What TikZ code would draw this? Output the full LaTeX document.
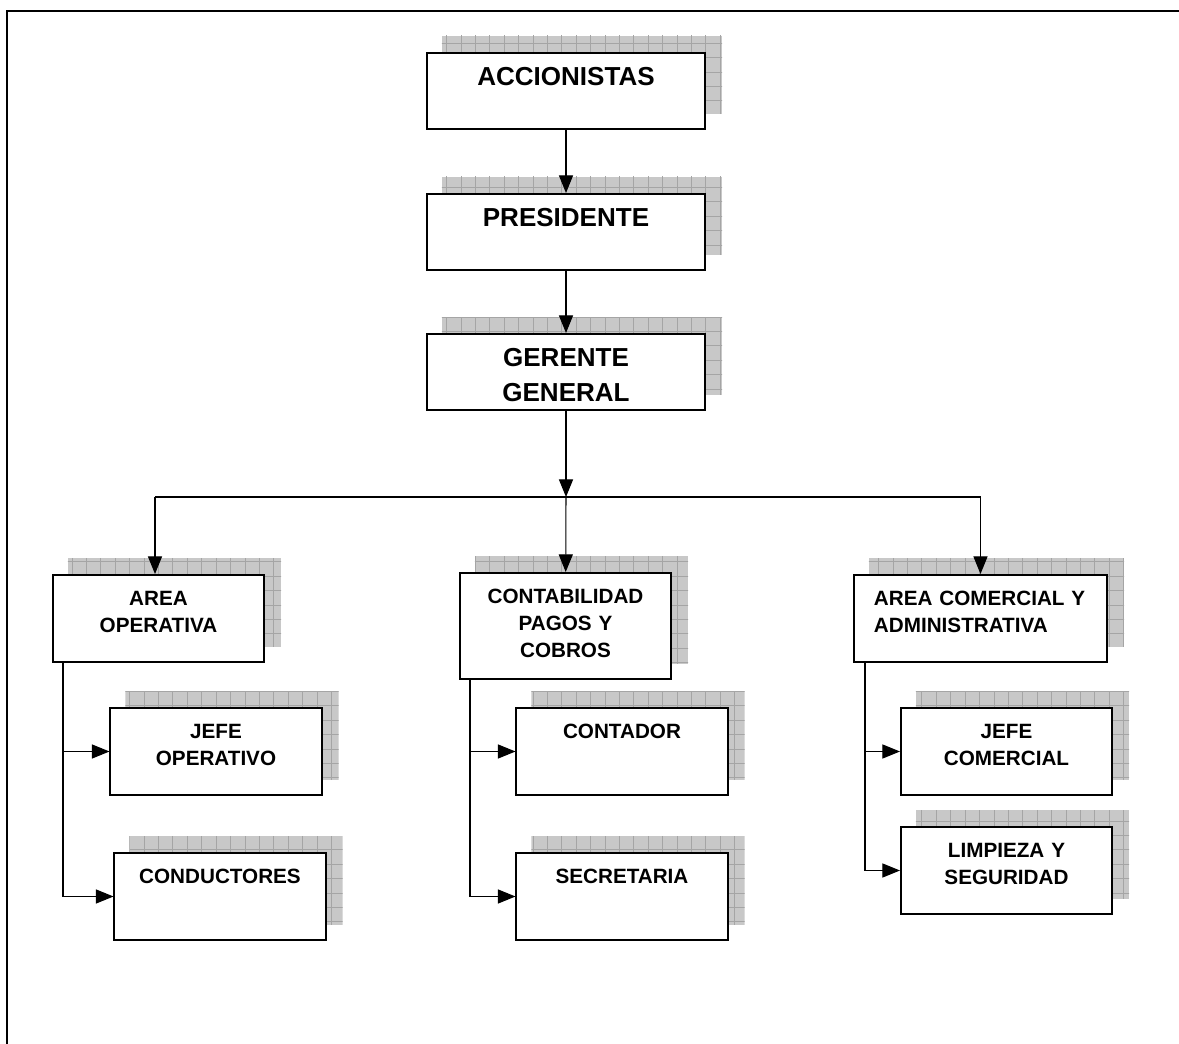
\documentclass[tikz,border=0pt]{standalone}
\usepackage{fontspec}
\setmainfont{Liberation Sans}
\usepackage{tikz}
\usetikzlibrary{arrows.meta,shapes}
\usetikzlibrary{positioning,calc,backgrounds}
\definecolor{shadefill}{RGB}{200,200,200}
\definecolor{shadegrid}{RGB}{165,165,165}
\tikzstyle{head} = [rectangle, draw, fill=white, line width=1.4pt, inner sep=0pt,
    text width=6.95cm, align=center, anchor=north,
    font=\fontsize{18.5}{24.2}\selectfont\bfseries,
    text height=0.825cm, text depth=1.075cm]
\tikzstyle{unit} = [rectangle, draw, fill=white, line width=1.4pt, inner sep=0pt,
    text width=5.275cm, align=center, anchor=north,
    font=\fontsize{14.7}{19.2}\selectfont\bfseries,
    text height=0.775cm, text depth=1.4cm]
\tikzstyle{link} = [draw, line width=0.75pt, -{Triangle[length=12.5pt,width=10pt]}]
\tikzstyle{bus} = [draw, line width=0.75pt]

\begin{document}
\begin{tikzpicture}[x=0.025cm, y=-0.025cm]
  \useasboundingbox (0,0) rectangle (1179,1044);
  \draw [line width=1.4pt] (7,1044) -- (7,11) -- (1179,11);
  % Place nodes
  \node [head] (accionistas) at (566,52) {ACCIONISTAS};
  \node [head] (presidente) at (566,193) {PRESIDENTE};
  \node [head] (gerente) at (566,333) {GERENTE\\GENERAL};
  \node [unit] (operativa) at (158.5,574) {AREA\\OPERATIVA};
  \node [unit, text depth=1.875cm] (contabilidad) at (565.5,572)
  {CONTABILIDAD\\PAGOS Y\\COBROS};
  \node [unit, text width=5.325cm, inner xsep=0.5cm, align=left]
  (comercial) at (980.5,574) {AREA COMERCIAL Y\\ADMINISTRATIVA};
  \node [unit] (jefeop) at (216,707) {JEFE\\OPERATIVO};
  \node [unit] (conductores) at (220,852) {CONDUCTORES};
  \node [unit] (contador) at (622,707) {CONTADOR};
  \node [unit] (secretaria) at (622,852) {SECRETARIA};
  \node [unit] (jefecom) at (1006.5,707) {JEFE\\COMERCIAL};
  \node [unit] (limpieza) at (1006.5,826) {LIMPIEZA Y\\SEGURIDAD};
  % Shadows
  \begin{scope}[on background layer]
    \foreach \n in {accionistas,presidente,gerente,operativa,contabilidad,
      comercial,jefeop,conductores,contador,secretaria,jefecom,limpieza} {
      \begin{scope}
        \clip ($(\n.south west)+(16,-16)$) rectangle ($(\n.north east)+(16,-16)$);
        \fill [shadefill] ($(\n.south west)+(16,-16)$) rectangle
          ($(\n.north east)+(16,-16)$);
        \draw [shadegrid, line width=0.5pt, xstep=0.36cm, ystep=0.36cm]
          ($(\n.south west)+(0,-16)$) grid ($(\n.north east)+(32,-32)$);
      \end{scope}
    }
  \end{scope}
  % Draw edges
  \coordinate (hub) at (566,497);
  \coordinate (hubleft) at (155,497);
  \coordinate (hubright) at (980.5,497);
  \path [link] (accionistas) -- (presidente);
  \path [link] (presidente) -- (gerente);
  \path [link] (gerente) -- (hub);
  \path [bus] (hubleft) -- (hubright);
  \path [link] (hubleft) -- (hubleft |- operativa.north);
  \path [link] (hub) -- (contabilidad);
  \path [link] (hubright) -- (comercial);
  \coordinate (opbus) at ($(operativa.south west)+(11,0)$);
  \coordinate (conbus) at ($(contabilidad.south west)+(11,0)$);
  \coordinate (combus) at ($(comercial.south west)+(12,0)$);
  \path [link] (opbus) |- (conductores);
  \path [link] (opbus |- jefeop.west) -- (jefeop);
  \path [link] (conbus) |- (secretaria);
  \path [link] (conbus |- contador.west) -- (contador);
  \path [link] (combus) |- (limpieza);
  \path [link] (combus |- jefecom.west) -- (jefecom);
\end{tikzpicture}
\end{document}
